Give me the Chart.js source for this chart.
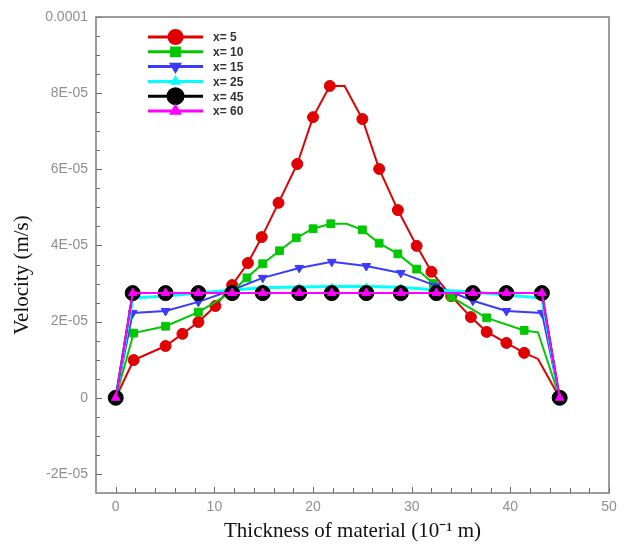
<!DOCTYPE html>
<html>
<head>
<meta charset="utf-8">
<script src="https://cdn.jsdelivr.net/npm/chart.js@4.4.1/dist/chart.umd.min.js"></script>
<style>
  html, body { margin: 0; padding: 0; background: #fff; }
</style>
</head>
<body>
<canvas id="velocityChart" width="629" height="547"></canvas>
<script>
// series names
const seriesNames = ['x= 5', 'x= 10', 'x= 15', 'x= 25', 'x= 45', 'x= 60'];

// positions across the material (10^-1 m)
const nodeX = [0, 1.72, 5.05, 8.38, 11.8, 14.9, 18.6, 21.9, 25.4, 28.9, 32.5, 36.2, 39.6, 43.2, 45];
const redX = [0, 1.82, 5.05, 6.76, 8.38, 10.1, 11.8, 13.4, 14.8, 16.5, 18.4, 20.0, 21.7, 23.2, 25.0,
              26.7, 28.6, 30.5, 32.0, 34.0, 36.0, 37.6, 39.6, 41.4, 42.8, 45];
const greenX = [0, 1.82, 5.05, 8.38, 11.6, 13.3, 14.9, 16.6, 18.3, 20.0, 21.8, 23.4, 25.0, 26.7,
                28.6, 30.5, 32.2, 34.0, 37.6, 41.4, 42.8, 45];

// velocity (m/s)
const v5 = [0, 9.9e-6, 1.36e-5, 1.68e-5, 1.99e-5, 2.41e-5, 2.96e-5, 3.54e-5, 4.22e-5, 5.12e-5, 6.14e-5,
            7.37e-5, 8.19e-5, 8.19e-5, 7.32e-5, 6.01e-5, 4.93e-5, 3.99e-5, 3.31e-5, 2.67e-5, 2.12e-5,
            1.73e-5, 1.44e-5, 1.18e-5, 1.02e-5, 0];
const v10 = [0, 1.70e-5, 1.88e-5, 2.25e-5, 2.75e-5, 3.15e-5, 3.52e-5, 3.86e-5, 4.20e-5, 4.44e-5, 4.57e-5,
             4.57e-5, 4.41e-5, 4.06e-5, 3.78e-5, 3.38e-5, 3.00e-5, 2.65e-5, 2.10e-5, 1.77e-5, 1.72e-5, 0];
const v15 = [0, 2.23e-5, 2.28e-5, 2.52e-5, 2.83e-5, 3.15e-5, 3.41e-5, 3.57e-5, 3.46e-5, 3.28e-5, 2.94e-5,
             2.55e-5, 2.28e-5, 2.23e-5, 0];
const v25 = [0, 2.62e-5, 2.67e-5, 2.75e-5, 2.83e-5, 2.89e-5, 2.91e-5, 2.92e-5, 2.92e-5, 2.90e-5, 2.83e-5,
             2.78e-5, 2.70e-5, 2.62e-5, 0];
const v45 = [0, 2.75e-5, 2.75e-5, 2.75e-5, 2.75e-5, 2.75e-5, 2.75e-5, 2.75e-5, 2.75e-5, 2.75e-5, 2.75e-5,
             2.75e-5, 2.75e-5, 2.75e-5, 0];
const v60 = [0, 2.75e-5, 2.75e-5, 2.75e-5, 2.75e-5, 2.75e-5, 2.75e-5, 2.75e-5, 2.75e-5, 2.75e-5, 2.75e-5,
             2.75e-5, 2.75e-5, 2.75e-5, 0];

// axis ticks
const xTicks = [0, 10, 20, 30, 40, 50];
const yTicks = [-2e-5, 0, 2e-5, 4e-5, 6e-5, 8e-5, 1e-4];
const yTickLabels = ['-2E-05', '0', '2E-05', '4E-05', '6E-05', '8E-05', '0.0001'];

const pts = (xs, ys) => xs.map((x, i) => ({ x: x, y: ys[i] }));
// bends in the line where no symbol is drawn
const bare = (skipIdx, r) => ctx => (skipIdx.includes(ctx.dataIndex) ? 0 : r);

function series(i, data, color, style, radius, extra) {
    return Object.assign({
        label: seriesNames[i],
        data: data,
        borderColor: color,
        backgroundColor: color,
        pointBackgroundColor: color,
        pointBorderColor: color,
        pointStyle: style,
        pointRadius: radius,
        pointBorderWidth: 1,
        borderWidth: 2,
        tension: 0,
        order: 6 - i
    }, extra || {});
}

const keyRadius = [6.5, 5.5, 4.5, 3.5, 7.5, 4.5];
const serif = '"Liberation Serif", "Times New Roman", serif';

// frame plus inward tick marks, like the original plot
const frameTicks = {
    id: 'frameTicks',
    beforeDatasetsDraw(chart) {
        const { ctx, chartArea: a, scales: { x, y } } = chart;
        ctx.save();
        ctx.strokeStyle = '#6a6a6a';
        ctx.lineWidth = 1;
        for (let v = 0; v <= 50; v += 2) {
            const px = Math.round(x.getPixelForValue(v)) + 0.5;
            const len = v % 10 === 0 ? 6 : 5;
            ctx.beginPath();
            ctx.moveTo(px, a.bottom);
            ctx.lineTo(px, a.bottom - len);
            ctx.stroke();
        }
        for (let k = -4; k <= 20; k++) {
            const py = Math.round(y.getPixelForValue(k * 5e-6)) + 0.5;
            const len = k % 4 === 0 ? 6 : 4;
            ctx.beginPath();
            ctx.moveTo(a.left, py);
            ctx.lineTo(a.left + len, py);
            ctx.stroke();
        }
        ctx.strokeStyle = '#7c7c7c';
        ctx.lineWidth = 1.5;
        ctx.strokeRect(a.left, a.top, a.width, a.height);

        // y axis title sits a little below the middle in the original
        ctx.translate(a.left - 74, (a.top + a.bottom) / 2 + 20);
        ctx.rotate(-Math.PI / 2);
        ctx.fillStyle = '#111';
        ctx.font = '21px ' + serif;
        ctx.textAlign = 'center';
        ctx.textBaseline = 'middle';
        ctx.fillText('Velocity (m/s)', 0, 0);
        ctx.restore();
    }
};

const keyBox = {
    id: 'keyBox',
    afterDraw(chart) {
        const { ctx, chartArea: a } = chart;
        chart.data.datasets.forEach((ds, i) => {
            const yy = a.top + 20 + i * 14.8;
            const x0 = a.left + 52, x1 = a.left + 107, xm = (x0 + x1) / 2;
            ctx.save();
            ctx.strokeStyle = ds.borderColor;
            ctx.lineWidth = 3;
            ctx.beginPath();
            ctx.moveTo(x0, yy);
            ctx.lineTo(x1, yy);
            ctx.stroke();
            ctx.fillStyle = ds.pointBackgroundColor;
            ctx.strokeStyle = ds.pointBorderColor;
            Chart.helpers.drawPoint(ctx, {
                pointStyle: ds.pointStyle,
                radius: keyRadius[i],
                rotation: ds.pointRotation || 0,
                borderWidth: 1
            }, xm, yy);
            ctx.fillStyle = '#333';
            ctx.font = 'bold 12px "Liberation Sans"';
            ctx.textBaseline = 'middle';
            ctx.fillText(ds.label, x1 + 10, yy + 1);
            ctx.restore();
        });
    }
};

const tickFont = { family: '"Liberation Sans", Arial, sans-serif', size: 14 };

new Chart(document.getElementById('velocityChart'), {
    type: 'line',
    data: {
        datasets: [
            series(0, pts(redX, v5), '#e00000', 'circle', bare([13, 24], 5.5)),
            series(1, pts(greenX, v10), '#00c800', 'rect', bare([11, 20], 5.5)),
            series(2, pts(nodeX, v15), '#3b3bff', 'triangle', 5, { pointRotation: 180 }),
            series(3, pts(nodeX, v25), '#00ffff', 'triangle', 3.5, { borderWidth: 3 }),
            series(4, pts(nodeX, v45), '#000000', 'circle', 7.5),
            series(5, pts(nodeX, v60), '#ff00ff', 'triangle', 5)
        ]
    },
    options: {
        responsive: false,
        animation: false,
        layout: { padding: { top: 17, right: 20, left: 0, bottom: 0 } },
        plugins: { legend: { display: false }, tooltip: { enabled: false } },
        scales: {
            x: {
                type: 'linear',
                min: -2,
                max: 50,
                afterBuildTicks: s => { s.ticks = xTicks.map(v => ({ value: v })); },
                afterFit: s => { s.height = 54; },
                grid: { display: false, drawTicks: false },
                border: { display: false },
                ticks: { color: '#8f8f8f', font: tickFont, padding: 6, maxRotation: 0, autoSkip: false,
                         callback: v => String(v) },
                title: { display: true, text: 'Thickness of material (10⁻¹ m)', color: '#111',
                         font: { family: serif, size: 21 }, padding: { top: 0, bottom: 3 } }
            },
            y: {
                type: 'linear',
                min: -2.5e-5,
                max: 1e-4,
                afterBuildTicks: s => { s.ticks = yTicks.map(v => ({ value: v })); },
                afterFit: s => { s.width = 96; },
                grid: { display: false, drawTicks: false },
                border: { display: false },
                ticks: { color: '#8f8f8f', font: tickFont, padding: 8, autoSkip: false,
                         callback: (v, i) => yTickLabels[i] }
            }
        }
    },
    plugins: [frameTicks, keyBox]
});
</script>
</body>
</html>
